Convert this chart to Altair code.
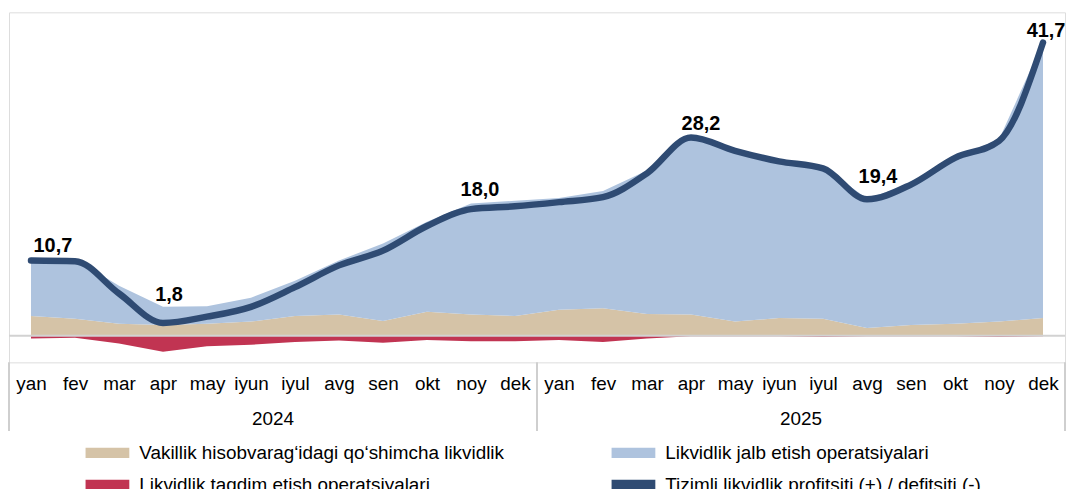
import altair as alt
import pandas as pd

months = ["yan", "fev", "mar", "apr", "may", "iyun", "iyul", "avg", "sen", "okt", "noy", "dek"]
years = ["2024", "2025"]

series_names = [
    "Vakillik hisobvarag‘idagi qo‘shimcha likvidlik",
    "Likvidlik jalb etish operatsiyalari",
    "Likvidlik taqdim etish operatsiyalari",
    "Tizimli likvidlik profitsiti (+) / defitsiti (-)",
]
colors = ["#D5C3A7", "#AEC3DE", "#C13452", "#2F4B73"]

# monthly values, yan 2024 .. dek 2025
vakillik = [2.8, 2.4, 1.7, 1.5, 1.7, 2.0, 2.8, 3.0, 2.1, 3.4, 3.0, 2.8,
            3.7, 3.9, 3.1, 3.0, 2.0, 2.5, 2.4, 1.1, 1.5, 1.7, 2.0, 2.5]
jalb = [8.3, 8.5, 5.4, 2.6, 2.5, 3.4, 5.0, 7.7, 11.0, 12.8, 15.8, 16.4,
        15.9, 16.7, 20.4, 25.3, 24.4, 22.4, 21.6, 18.4, 20.1, 23.7, 25.9, 39.3]
taqdim = [-0.4, -0.3, -1.1, -2.3, -1.5, -1.3, -0.9, -0.7, -1.0, -0.6, -0.8, -0.8,
          -0.6, -0.9, -0.4, -0.1, -0.1, -0.1, -0.2, -0.1, -0.1, -0.1, -0.2, -0.1]
tizimli = [10.7, 10.6, 6.0, 1.8, 2.7, 4.1, 6.9, 10.0, 12.1, 15.6, 18.0, 18.4,
           19.0, 19.7, 23.1, 28.2, 26.3, 24.8, 23.8, 19.4, 21.5, 25.3, 27.7, 41.7]

label_idx = [0, 3, 10, 15, 19, 23]

# ---- tables ----
n = len(tizimli)
rows = []
for k, (name, vals) in enumerate(zip(series_names[:3], [vakillik, jalb, taqdim])):
    for i, v in enumerate(vals):
        rows.append({"i": i, "series": name, "value": v, "ord": k})
area_df = pd.DataFrame(rows)
line_df = pd.DataFrame({"i": list(range(n)), "value": tizimli})

xscale = alt.Scale(domain=[-0.5, n - 0.5], nice=False, zero=False)
yscale = alt.Scale(domain=[-3.8, 46], nice=False, zero=False)

month_js = "[" + ",".join("'%s'" % m for m in months) + "]"
xaxis = alt.Axis(
    values=list(range(n)),
    labelExpr=month_js + "[datum.value % 12]",
    domain=False, ticks=False, grid=False, title=None,
    labelFontSize=19, labelColor="black", labelPadding=12,
    labelFont="Liberation Sans", labelAngle=0,
)

areas = alt.Chart(area_df).mark_area(interpolate="linear").encode(
    x=alt.X("i:Q", scale=xscale, axis=xaxis),
    y=alt.Y("value:Q", stack="zero", scale=yscale, axis=None),
    color=alt.Color(
        "series:N",
        scale=alt.Scale(domain=series_names, range=colors),
        legend=alt.Legend(
            orient="none", legendX=77, legendY=421, columns=2, direction="horizontal",
            columnPadding=107, rowPadding=-22, padding=0,
            symbolType="M-1,-0.23H1V0.23H-1Z", symbolSize=1936,
            symbolStrokeWidth=0, labelFontSize=19, labelFont="Liberation Sans",
            labelColor="black", labelOffset=10, labelLimit=0, title=None,
        ),
    ),
    order=alt.Order("ord:Q"),
)

zero = alt.Chart(pd.DataFrame({"z": [0]})).mark_rule(color="#d2d2d2", strokeWidth=2).encode(
    y=alt.Y("z:Q", scale=yscale)
)

box_df = pd.DataFrame({"xb": [-0.5, 11.5, n - 0.5]})
box = alt.Chart(box_df).mark_rule(color="#cfcfcf", strokeWidth=2).encode(
    x=alt.X("xb:Q", scale=xscale), y=alt.value(352), y2=alt.value(421)
)

year_df = pd.DataFrame({"year": years, "pos": [5.5 + 12 * k for k in range(len(years))]})
year_text = alt.Chart(year_df).mark_text(
    fontSize=19, font="Liberation Sans", color="black", baseline="middle"
).encode(x=alt.X("pos:Q", scale=xscale), y=alt.value(409), text="year:N")

line = alt.Chart(line_df).mark_line(
    interpolate="monotone", strokeWidth=6.5, strokeCap="round", color="#2F4B73"
).encode(x=alt.X("i:Q", scale=xscale), y=alt.Y("value:Q", scale=yscale))

label_dx = {0: 22, 3: 6, 10: 9, 15: 10, 19: 11, 23: 3}
label_dy = {0: -9, 3: -22, 10: -13, 15: -8, 19: -16, 23: -6}
labels = []
for i in label_idx:
    d = pd.DataFrame({"i": [i], "value": [tizimli[i]],
                      "txt": [("%.1f" % tizimli[i]).replace(".", ",")]})
    labels.append(
        alt.Chart(d).mark_text(
            fontSize=20, fontWeight="bold", font="Liberation Sans", color="black",
            baseline="alphabetic", dx=label_dx[i], dy=label_dy[i],
        ).encode(x=alt.X("i:Q", scale=xscale), y=alt.Y("value:Q", scale=yscale), text="txt:N")
    )

chart = alt.layer(areas, zero, box, year_text, line, *labels).properties(
    width=1062, height=352,
    padding={"left": 0, "top": 3, "right": 0, "bottom": 0},
).configure_view(stroke="#c8c8c8", strokeWidth=2).configure(font="Liberation Sans")

chart.save("out.html", embed_options={"renderer": "svg", "actions": False})
